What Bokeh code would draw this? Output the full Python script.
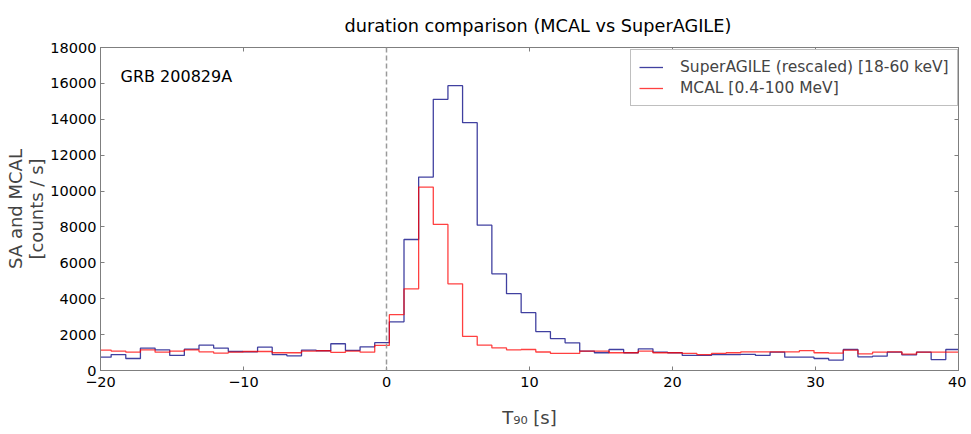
import numpy as np
from bokeh.plotting import figure
from bokeh.models import Span, Label, LinearAxis, Range1d, FixedTicker
from bokeh.embed import file_html
from bokeh.resources import INLINE

# ---- data ----
bin_width = 1.024          # s
first_edge = -20.28        # left edge of first bin (s)

sa_counts = [745, 890, 670, 1250, 1150, 840, 1190, 1410, 1250, 1060,
             1040, 1300, 890, 820, 1140, 1100, 1490, 1120, 1320, 1550,
             2710, 7300, 10780, 15110, 15870, 13810, 8100, 5390, 4280, 3220,
             2170, 1780, 1540, 1080, 990, 1170, 990, 1210, 1020, 990,
             840, 840, 890, 890, 900, 840, 1020, 740, 740, 670,
             580, 1170, 760, 800, 1020, 870, 1020, 610, 1170]

mcal_counts = [1140, 1080, 1020, 1150, 1020, 1080, 1150, 1040, 970, 1020,
               1060, 1060, 990, 990, 1080, 1100, 1010, 1080, 1020, 1400,
               3110, 4550, 10220, 8140, 4830, 1900, 1410, 1260, 1150, 1170,
               1030, 950, 950, 1080, 1080, 990, 990, 1080, 990, 990,
               950, 890, 950, 990, 1040, 1040, 1040, 1040, 1110, 990,
               970, 1130, 930, 1020, 1040, 910, 1020, 1020, 1020]

x_ticks = [-20, -10, 0, 10, 20, 30, 40]
y_ticks = [0, 2000, 4000, 6000, 8000, 10000, 12000, 14000, 16000, 18000]

title_text = "duration comparison (MCAL vs SuperAGILE)"
sa_label = "SuperAGILE (rescaled) [18-60 keV]"
mcal_label = "MCAL [0.4-100 MeV]"
grb_name = "GRB 200829A"

# ---- build ----
edges = first_edge + bin_width * np.arange(len(sa_counts) + 1)
sa_y = list(sa_counts) + [sa_counts[-1]]
mcal_y = list(mcal_counts) + [mcal_counts[-1]]

FONT = "DejaVu Sans"
AX_COL = "#7f7f7f"

p = figure(frame_width=858, frame_height=323, x_range=Range1d(-20, 40), y_range=Range1d(0, 18000),
           output_backend="svg", toolbar_location=None,
           min_border_left=100, min_border_right=8, min_border_top=47, min_border_bottom=52)
p.background_fill_color = "white"
p.border_fill_color = "white"
p.outline_line_color = AX_COL
p.xgrid.grid_line_color = None
p.ygrid.grid_line_color = None

p.title.text = title_text
p.title.align = "left"
p.title.offset = 244
p.title.standoff = 24
p.title.text_font = FONT
p.title.text_font_size = "17.7px"
p.title.text_font_style = "normal"
p.title.text_color = "black"

bottom_ax = p.below[0]
left_ax = p.left[0]

def style_axis(ax, ticks, show_labels):
    ax.ticker = FixedTicker(ticks=ticks)
    ax.axis_line_color = AX_COL
    ax.major_tick_line_color = AX_COL
    ax.major_tick_in = 4
    ax.major_tick_out = 0
    ax.minor_tick_line_color = None
    ax.major_label_text_font = FONT
    ax.major_label_text_color = "black"
    if show_labels:
        ax.major_label_text_font_size = "14.5px"
    else:
        ax.major_label_overrides = {t: "" for t in ticks}
        ax.major_label_text_font_size = "1px"
        ax.major_label_standoff = 0
        ax.axis_label_standoff = 0

style_axis(bottom_ax, x_ticks, True)
style_axis(left_ax, y_ticks, True)
bottom_ax.major_label_standoff = 6
left_ax.major_label_standoff = 4

top_ax = LinearAxis()
style_axis(top_ax, x_ticks, False)
p.add_layout(top_ax, "above")
right_ax = LinearAxis()
style_axis(right_ax, y_ticks, False)
p.add_layout(right_ax, "right")

bottom_ax.axis_label = "T\u2089\u2080 [s]"
bottom_ax.axis_label_text_font = FONT
bottom_ax.axis_label_text_font_size = "18px"
bottom_ax.axis_label_text_font_style = "normal"
bottom_ax.axis_label_standoff = 17

left_ax.axis_label = "SA and MCAL\n[counts / s]"
left_ax.axis_label_text_font = FONT
left_ax.axis_label_text_font_size = "18px"
left_ax.axis_label_text_font_style = "normal"
left_ax.axis_label_text_line_height = 1.0
left_ax.axis_label_standoff = 0

p.add_layout(Span(location=0, dimension="height", line_color="#9a9a9a",
                  line_width=1.5, line_dash="5 3"))

p.step(edges, sa_y, mode="after", line_color="navy", line_alpha=0.75,
       line_width=1.3, legend_label=sa_label)
p.step(edges, mcal_y, mode="after", line_color="red", line_alpha=0.75,
       line_width=1.3, legend_label=mcal_label)

p.add_layout(Label(x=-18.6, y=16400, text=grb_name, text_font=FONT,
                   text_font_size="16px", text_baseline="middle", text_color="black"))

lg = p.legend[0]
lg.location = (530, 264)
lg.margin = 0
lg.border_line_color = AX_COL
lg.border_line_width = 1
lg.background_fill_alpha = 1
lg.label_text_font = FONT
lg.label_text_font_size = "15.5px"
lg.glyph_width = 24
lg.glyph_height = 16
lg.label_standoff = 17
lg.spacing = 3
lg.padding = 8
lg.label_height = 18

open("out.html", "w").write(file_html(p, INLINE))
